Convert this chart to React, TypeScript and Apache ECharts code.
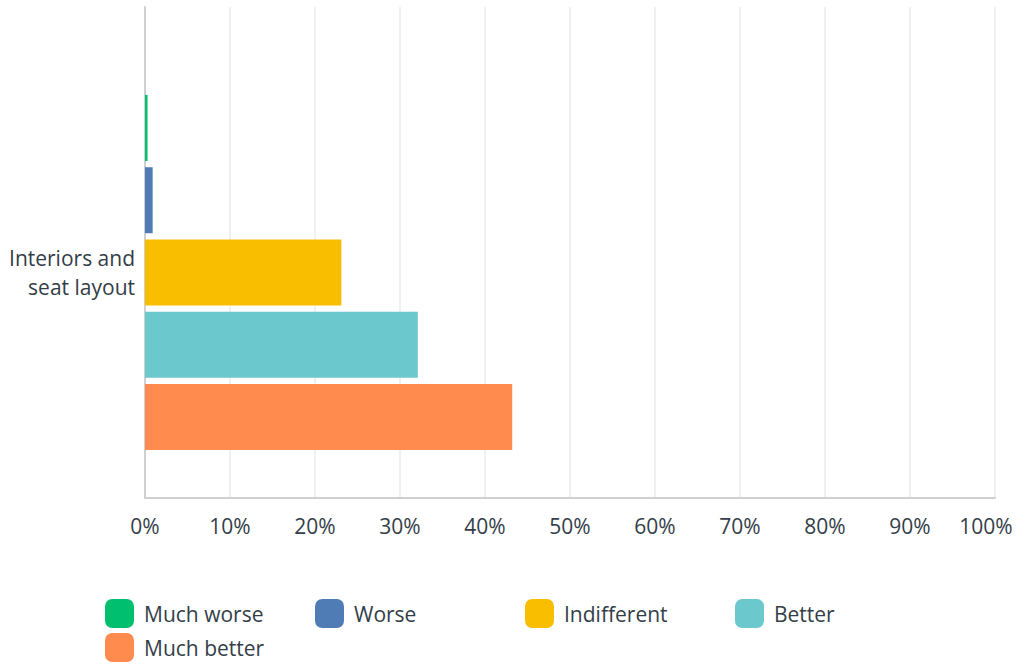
import React, { useEffect, useRef } from "react";
import * as echarts from "echarts";

const categories = ["Interiors and seat layout"];
const seriesNames = ["Much worse", "Worse", "Indifferent", "Better", "Much better"];
const seriesValues = [0.3, 0.9, 23.1, 32.1, 43.2];
const seriesColors = ["#00bf6f", "#507cb6", "#f9be00", "#6bc8cd", "#ff8b4f"];
const xTicks = [0, 10, 20, 30, 40, 50, 60, 70, 80, 90, 100];

const FONT = "'Open Sans', sans-serif";
const TEXT = "#333e48";

// legend layout: 4 columns, 210px apart, rows 34px apart
const LEGEND_LEFT = 105;
const LEGEND_TOP = 599;
const LEGEND_COL = 210;
const LEGEND_ROW = 34;
const LEGEND_COLS = 4;

export default function App() {
  const ref = useRef<HTMLDivElement>(null);
  useEffect(() => {
    if (!ref.current) return;
    const chart = echarts.init(ref.current, undefined, { renderer: "svg" });
    const legends = seriesNames.map((name, i) => ({
      data: [name],
      left: LEGEND_LEFT + (i % LEGEND_COLS) * LEGEND_COL,
      top: LEGEND_TOP + Math.floor(i / LEGEND_COLS) * LEGEND_ROW,
      orient: "horizontal",
      icon: "roundRect",
      itemWidth: 29,
      itemHeight: 29,
      itemGap: 10,
      padding: 0,
      textStyle: { fontFamily: FONT, fontSize: 21, color: TEXT, padding: [0, 0, 0, 5] },
      selectedMode: false,
    }));
    const maxTick = xTicks[xTicks.length - 1];
    const option = {
      animation: false,
      textStyle: { fontFamily: FONT, color: TEXT },
      grid: [
        { left: 145, right: 23, top: 47, bottom: 168, containLabel: false, outerBoundsMode: "none" },
        { left: 145, right: 23, top: 7, height: 40, containLabel: false, outerBoundsMode: "none" },
      ],
      xAxis: [
        {
          type: "value",
          gridIndex: 0,
          min: xTicks[0],
          max: maxTick,
          interval: 10,
          axisLine: { show: true, lineStyle: { color: "#d0d0d0", width: 2 } },
          axisTick: { show: false },
          splitLine: { show: true, lineStyle: { color: "#ebebeb", width: 1.5 } },
          axisLabel: {
            fontFamily: FONT,
            fontSize: 21,
            color: TEXT,
            margin: 17,
            formatter: (v: number) => (v === maxTick ? `{last|${v}%}` : `${v}%`),
            rich: { last: { fontFamily: FONT, fontSize: 21, color: TEXT, padding: [0, 18, 0, 0] } },
          },
        },
        {
          type: "value",
          gridIndex: 1,
          min: xTicks[0],
          max: maxTick,
          interval: 10,
          axisLine: { show: false },
          axisTick: { show: false },
          axisLabel: { show: false },
          splitLine: { show: true, lineStyle: { color: "#ebebeb", width: 1.5 } },
        },
      ],
      yAxis: [
        {
          type: "category",
          gridIndex: 0,
          inverse: true,
          data: categories,
          axisLine: { show: true, lineStyle: { color: "#d0d0d0", width: 2 } },
          axisTick: { show: false },
          axisLabel: {
            fontFamily: FONT,
            fontSize: 21,
            color: TEXT,
            margin: 10,
            lineHeight: 29,
            align: "right",
            formatter: (v: string) => v.replace(/ (\S+ \S+)$/, "\n$1"),
          },
        },
        {
          type: "category",
          gridIndex: 1,
          data: [""],
          axisLine: { show: true, lineStyle: { color: "#d0d0d0", width: 2 } },
          axisTick: { show: false },
          axisLabel: { show: false },
        },
      ],
      legend: legends,
      series: seriesNames.map((name, i) => ({
        name,
        type: "bar",
        xAxisIndex: 0,
        yAxisIndex: 0,
        data: [seriesValues[i]],
        barWidth: 66,
        barGap: "9.5%",
        itemStyle: { color: seriesColors[i] },
      })),
    };
    chart.setOption(option);
    return () => chart.dispose();
  }, []);
  return (
    <div
      ref={ref}
      style={{ position: "fixed", left: 0, top: 0, width: 1018, height: 666, background: "#fff" }}
    />
  );
}
